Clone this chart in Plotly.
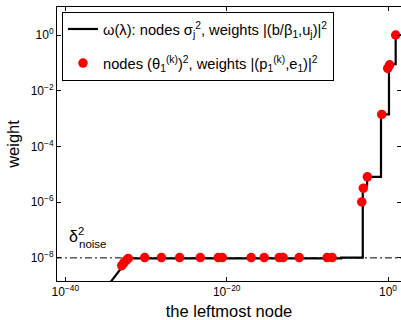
import plotly.graph_objects as go

# omega(lambda) staircase: log10 of node position and log10 of weight
line_node_exp = [-35.0, -32.14, -5.8, -3.13, -2.59, -0.87, 0.12, 0.95, 3.0]
line_weight_exp = [-9.10, -8.02, -7.99, -5.39, -5.09, -2.85, -1.05, 0.0, 0.0]

# red nodes (theta_1^(k))^2: log10 of node position and log10 of weight
dot_node_exp = [-33.0, -32.75, -32.45, -32.2, -30.16, -28.09, -25.83, -23.27,
                -21.04, -20.54, -16.96, -15.35, -13.49, -13.0, -11.01, -7.55,
                -6.93, -3.25, -3.06, -2.56, -0.78, -0.04, 0.2, 0.95]
dot_weight_exp = [-8.28, -8.18, -8.09, -8.02, -7.99, -7.99, -7.99, -7.99,
                  -7.99, -7.99, -7.99, -7.99, -7.99, -7.99, -7.99, -7.99,
                  -7.99, -5.99, -5.5, -5.09, -2.85, -1.2, -1.07, 0.0]

noise_level = 1e-8
x_tick_exp = [-40, -20, 0]
y_tick_exp = [-8, -6, -4, -2, 0]
x_tick_text = ["10<sup>−40</sup>", "10<sup>−20</sup>", "10<sup>0</sup>"]
y_tick_text = ["10<sup>−8</sup>", "10<sup>−6</sup>", "10<sup>−4</sup>", "10<sup>−2</sup>", "10<sup>0</sup>"]

lx = [10.0 ** e for e in line_node_exp]
ly = [10.0 ** e for e in line_weight_exp]
# first segment is a straight line, the rest is a staircase (horizontal then vertical)
sx, sy = [lx[0], lx[1]], [ly[0], ly[1]]
for i in range(1, len(lx) - 1):
    sx += [lx[i + 1], lx[i + 1]]
    sy += [ly[i], ly[i + 1]]

FONT = "Liberation Sans, Arial, Helvetica, sans-serif"

fig = go.Figure()
fig.add_trace(go.Scatter(
    x=[1e-45, 1e5], y=[noise_level, noise_level], mode="lines",
    line=dict(color="black", width=1, dash="7px,3px,2px,3px"),
    showlegend=False, hoverinfo="skip"))
fig.add_trace(go.Scatter(
    x=sx, y=sy, mode="lines", line=dict(color="black", width=2.2), legendgroup="a",
    name="ω(λ): nodes σ<sub>j</sub><sup>2</sup>, weights |(b/β<sub>1</sub>,u<sub>j</sub>)|<sup>2</sup>"))
fig.add_trace(go.Scatter(
    x=[10.0 ** e for e in dot_node_exp], y=[10.0 ** e for e in dot_weight_exp],
    mode="markers", marker=dict(color="#ff0000", size=9.5), legendgroup="b",
    name="nodes (θ<sub>1</sub><sup>(k)</sup>)<sup>2</sup>, weights |(p<sub>1</sub><sup>(k)</sup>,e<sub>1</sub>)|<sup>2</sup>"))

axis_common = dict(
    showline=True, linecolor="black", linewidth=1, mirror="ticks",
    ticks="inside", ticklen=4, tickcolor="black", tickwidth=1,
    showgrid=False, zeroline=False,
    tickfont=dict(family=FONT, size=12, color="black"),
    automargin=False,
)

fig.update_xaxes(type="log", range=[-41.03, 1.61],
                 tickvals=[10.0 ** e for e in x_tick_exp], ticktext=x_tick_text,
                 title=dict(text="the leftmost node", font=dict(family=FONT, size=16.5, color="black"), standoff=8),
                 **axis_common)
fig.update_yaxes(type="log", range=[-8.83, 1.005],
                 tickvals=[10.0 ** e for e in y_tick_exp], ticktext=y_tick_text,
                 title=dict(text="weight", font=dict(family=FONT, size=16.5, color="black"), standoff=6),
                 **axis_common)

fig.add_annotation(x=0.058, y=0.168, xref="paper", yref="paper",
                   xanchor="center", yanchor="middle",
                   text="δ<sup>2</sup>", showarrow=False,
                   font=dict(family=FONT, size=16, color="black"))
fig.add_annotation(x=0.1045, y=0.134, xref="paper", yref="paper",
                   xanchor="center", yanchor="middle",
                   text="noise", showarrow=False,
                   font=dict(family=FONT, size=11.5, color="black"))

fig.update_layout(
    width=401, height=320,
    margin=dict(l=57, r=0, t=7, b=39),
    paper_bgcolor="white", plot_bgcolor="white",
    font=dict(family=FONT, color="black"),
    legend=dict(x=0.0145, y=0.982, xanchor="left", yanchor="top",
                bordercolor="black", borderwidth=1, bgcolor="white",
                traceorder="grouped", tracegroupgap=12,
                font=dict(family=FONT, size=14.7, color="black")),
)

fig.write_html("out.html", config={"displayModeBar": False},
               post_script="document.body.style.margin='0px';")
